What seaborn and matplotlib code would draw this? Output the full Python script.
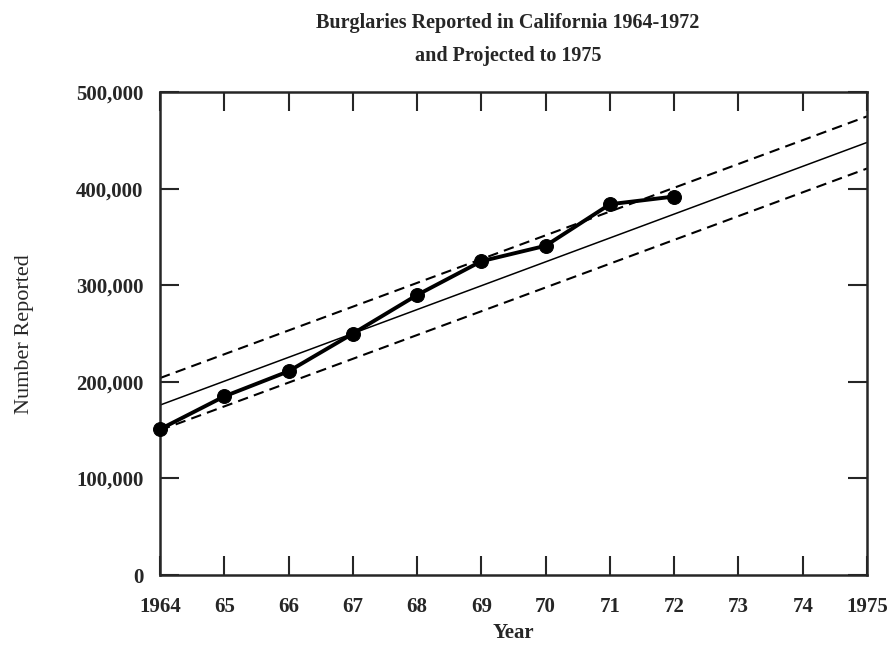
import pandas as pd
import matplotlib.pyplot as plt
import seaborn as sns

# datos
years = [1964, 1965, 1966, 1967, 1968, 1969, 1970, 1971, 1972]
burglaries = [151000, 185000, 211000, 250000, 290000, 325000, 341000, 384000, 392000]

# recta de tendencia y bandas (extremos)
trend_years = [1964, 1975]
trend = [176000, 448000]
upper = [204000, 475000]
lower = [150000, 421000]

tick_years = list(range(1964, 1976))
tick_labels = ['1964', '65', '66', '67', '68', '69', '70', '71', '72', '73', '74', '1975']

sns.set_style('ticks')
plt.rcParams['font.family'] = ['Liberation Serif', 'DejaVu Serif']

df = pd.DataFrame({'year': years, 'value': burglaries})
df_trend = pd.DataFrame({'year': trend_years, 'trend': trend, 'upper': upper, 'lower': lower})

fig = plt.figure(figsize=(8.91, 6.45), dpi=100)
ax = fig.add_axes([0.1796, 0.1085, 0.7935, 0.7485])

sns.lineplot(x='year', y='trend', data=df_trend, ax=ax, color='black', linewidth=1.1)
sns.lineplot(x='year', y='upper', data=df_trend, ax=ax, color='black', linewidth=1.5, linestyle=(0, (5, 3)))
sns.lineplot(x='year', y='lower', data=df_trend, ax=ax, color='black', linewidth=1.5, linestyle=(0, (5, 3)))
sns.lineplot(x='year', y='value', data=df, ax=ax, color='black', linewidth=2.8,
             marker='o', markersize=10, markeredgecolor='black', clip_on=False, zorder=5)

ax.set_xlim(1964, 1975)
ax.set_ylim(0, 500000)
ax.set_xticks(tick_years)
ax.set_xticklabels(tick_labels)
ax.set_yticks([0, 100000, 200000, 300000, 400000, 500000])
ax.set_yticklabels(['0', '100,000', '200,000', '300,000', '400,000', '500,000'])
ax.tick_params(direction='in', length=14, width=1.5, top=True, right=True,
               labelsize=15)
ax.tick_params(axis='x', pad=16)
ax.tick_params(axis='y', pad=12)
for lab in ax.get_xticklabels() + ax.get_yticklabels():
    lab.set_fontweight('bold')
for s in ax.spines.values():
    s.set_linewidth(1.8)

ax.set_xlabel('Year', fontsize=15, fontweight='bold')
ax.xaxis.set_label_coords(0.5, -0.1)
ax.set_ylabel('Number Reported', fontsize=16, labelpad=30)
fig.text(0.57, 0.957, 'Burglaries Reported in California 1964-1972', ha='center',
         fontsize=14.5, fontweight='bold')
fig.text(0.57, 0.905, 'and Projected to 1975', ha='center', fontsize=14.5, fontweight='bold')

plt.savefig('out.png', dpi=100)
